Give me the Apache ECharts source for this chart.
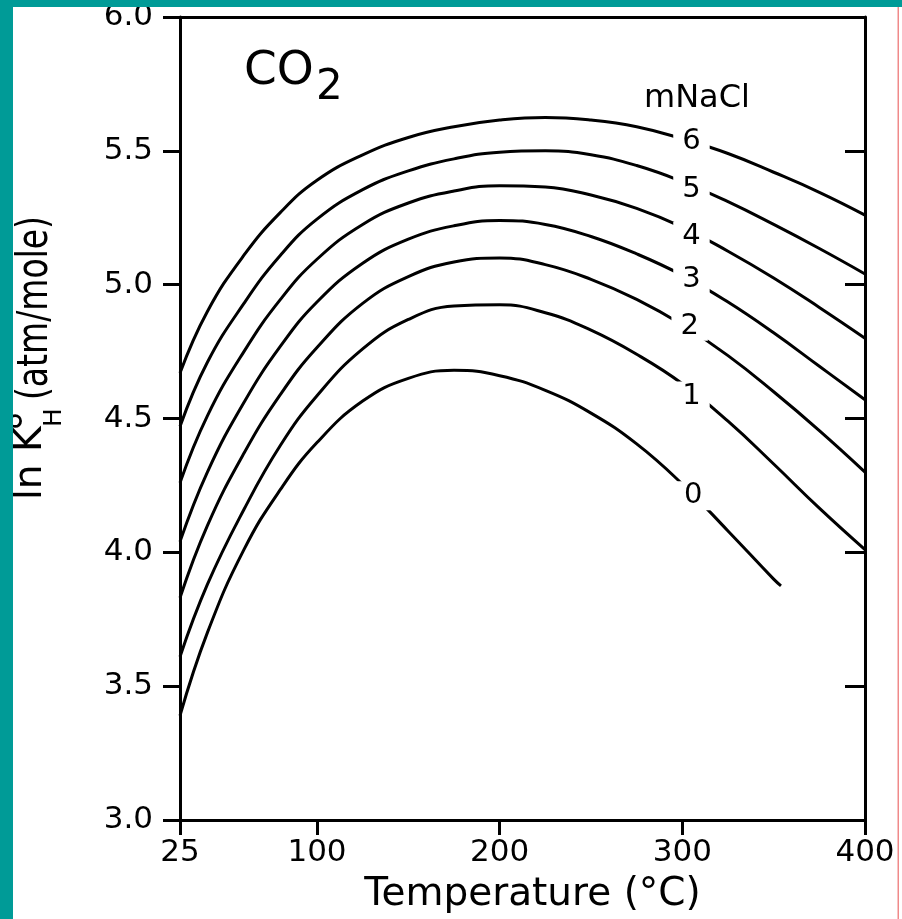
<!DOCTYPE html>
<html>
<head>
<meta charset="utf-8">
<script src="https://cdn.jsdelivr.net/npm/echarts@6/dist/echarts.min.js"></script>
<style>
html,body{margin:0;padding:0;background:#fff;}
#chart{width:902px;height:919px;}
</style>
</head>
<body>
<div id="chart"></div>
<script>
// Temperatures (°C) at which curves are sampled
const temps = [25, 40, 60, 80, 100, 125, 150, 175, 200, 225, 250, 275, 300, 325, 350, 375, 400];
const temps0 = [25, 40, 60, 80, 100, 125, 150, 175, 200, 225, 250, 275, 300, 325, 350, 354];
// ln K°H for each NaCl molality
const m0 = [3.39, 3.70, 4.01, 4.235, 4.41, 4.565, 4.65, 4.68, 4.66, 4.605, 4.52, 4.405, 4.255, 4.08, 3.90, 3.875];
const m1 = [3.61, 3.88, 4.16, 4.40, 4.585, 4.76, 4.87, 4.92, 4.925, 4.895, 4.83, 4.74, 4.63, 4.49, 4.33, 4.165, 4.01];
const m2 = [3.83, 4.10, 4.37, 4.59, 4.765, 4.93, 5.03, 5.085, 5.10, 5.075, 5.02, 4.945, 4.85, 4.735, 4.60, 4.455, 4.30];
const m3 = [4.04, 4.30, 4.56, 4.77, 4.935, 5.08, 5.17, 5.22, 5.24, 5.225, 5.18, 5.115, 5.035, 4.935, 4.82, 4.695, 4.57];
const m4 = [4.26, 4.51, 4.75, 4.945, 5.095, 5.225, 5.305, 5.35, 5.37, 5.365, 5.335, 5.285, 5.215, 5.125, 5.025, 4.915, 4.80];
const m5 = [4.47, 4.71, 4.93, 5.11, 5.245, 5.355, 5.425, 5.47, 5.495, 5.50, 5.485, 5.445, 5.385, 5.31, 5.225, 5.135, 5.04];
const m6 = [4.67, 4.90, 5.11, 5.27, 5.39, 5.485, 5.55, 5.59, 5.615, 5.625, 5.615, 5.59, 5.545, 5.49, 5.42, 5.345, 5.26];
// curve labels (text, temperature, value)
const labelTexts = ['mNaCl', '6', '5', '4', '3', '2', '1', '0'];
const labelT = [308, 305, 305, 305, 305, 304, 305, 306];
const labelV = [5.695, 5.534, 5.356, 5.180, 5.020, 4.845, 4.584, 4.211];
// axis ticks
const xTicks = [25, 100, 200, 300, 400];
const yTicks = [3.0, 3.5, 4.0, 4.5, 5.0, 5.5, 6.0];

const FONT = 'DejaVu Sans';
const chart = echarts.init(document.getElementById('chart'), null, {renderer: 'canvas'});

function lineSeries(name, ts, vals) {
  return {
    name: name, type: 'line', xAxisIndex: 0, yAxisIndex: 0,
    data: ts.map((t, i) => [t, vals[i]]),
    showSymbol: false, smooth: 0.45, z: 2, silent: true,
    lineStyle: {color: '#000', width: 3}
  };
}

function axisLine() { return {show: true, onZero: false, lineStyle: {color: '#000', width: 3}}; }
function tickStyle() { return {color: '#000', width: 3}; }
function txt(text, x, y, fs, extra) {
  return Object.assign({type: 'text', x: x, y: y,
    style: {text: text, fontSize: fs, fontFamily: FONT, fill: '#000', align: 'left', textAlign: 'left',
      verticalAlign: 'middle', textVerticalAlign: 'middle'}}, extra || {});
}

const option = {
  backgroundColor: '#fff',
  animation: false,
  grid: {left: 180, right: 37, top: 17, bottom: 97, containLabel: false},
  xAxis: [{
    type: 'value', min: 25, max: 400, position: 'bottom',
    axisLine: axisLine(),
    axisTick: {show: true, inside: false, length: 15, customValues: xTicks, lineStyle: tickStyle()},
    axisLabel: {show: true, customValues: xTicks, margin: 17, fontSize: 31, fontFamily: FONT, color: '#000'},
    splitLine: {show: false},
    name: 'Temperature (°C)', nameLocation: 'middle', nameGap: 55,
    nameTextStyle: {fontSize: 39, fontFamily: FONT, color: '#000', padding: [0, 0, 0, 20]}
  }, {
    type: 'value', min: 25, max: 400, position: 'top',
    axisLine: axisLine(),
    axisTick: {show: false}, axisLabel: {show: false}, splitLine: {show: false}
  }],
  yAxis: [{
    type: 'value', min: 3, max: 6, interval: 0.5, position: 'left',
    axisLine: axisLine(),
    axisTick: {show: true, inside: false, length: 17, customValues: yTicks, lineStyle: tickStyle()},
    axisLabel: {show: true, customValues: yTicks, margin: 27, fontSize: 31, fontFamily: FONT, color: '#000',
      formatter: v => Number(v).toFixed(1)},
    splitLine: {show: false}
  }, {
    type: 'value', min: 3, max: 6, interval: 0.5, position: 'right',
    axisLine: axisLine(),
    axisTick: {show: true, inside: true, length: 20, customValues: yTicks, lineStyle: tickStyle()},
    axisLabel: {show: false}, splitLine: {show: false}
  }],
  series: [
    lineSeries('0', temps0, m0),
    lineSeries('1', temps, m1),
    lineSeries('2', temps, m2),
    lineSeries('3', temps, m3),
    lineSeries('4', temps, m4),
    lineSeries('5', temps, m5),
    lineSeries('6', temps, m6),
    {
      name: 'labels', type: 'scatter', xAxisIndex: 0, yAxisIndex: 0, z: 5, silent: true,
      symbolSize: 1,
      itemStyle: {opacity: 1, color: '#fff'},
      emphasis: {disabled: true},
      data: labelTexts.map((t, i) => ({
        value: [labelT[i], labelV[i]], name: t,
        label: i === 0 ? {fontSize: 32, padding: [0, 0]} : {}
      })),
      label: {
        show: true, position: 'inside', formatter: p => p.name,
        fontSize: 29, fontFamily: FONT, color: '#000', opacity: 1,
        textBorderWidth: 0, textShadowBlur: 0,
        backgroundColor: '#fff', padding: [0, 9]
      }
    }
  ],
  graphic: [
    {type: 'rect', shape: {x: 0, y: 0, width: 13, height: 919}, style: {fill: '#009b97'}, z: 100},
    {type: 'rect', shape: {x: 0, y: 0, width: 902, height: 7}, style: {fill: '#009b97'}, z: 100},
    {type: 'rect', shape: {x: 897.5, y: 7, width: 1.5, height: 912}, style: {fill: '#f08a8a'}, z: 100},
    txt('CO', 244, 72, 47, {z: 50}),
    txt('2', 316, 88, 42, {z: 50}),
    {
      type: 'group', x: 0, y: 500, rotation: Math.PI / 2, z: 50,
      children: [
        txt('ln K', 0, 31, 39),
        txt('°', 68, 30, 44),
        txt('H', 73, 54, 25),
        txt('(atm/mole)', 100, 36, 33, {scaleX: 1, scaleY: 1.3})
      ]
    }
  ]
};
chart.setOption(option);
</script>
</body>
</html>
